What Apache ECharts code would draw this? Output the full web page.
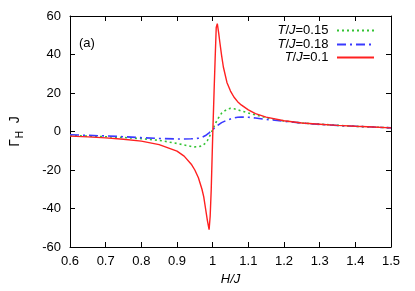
<!DOCTYPE html>
<html>
<head>
<meta charset="utf-8">
<script src="https://cdn.jsdelivr.net/npm/echarts@6/dist/echarts.min.js"></script>
<style>html,body{margin:0;padding:0;background:#fff;}#c{width:415px;height:291px;}</style>
</head>
<body>
<div id="c"></div>
<script>
var hValues = [0.6,0.65,0.7,0.75,0.8,0.85,0.9,0.92,0.94,0.95,0.96,0.97,0.975,0.98,0.985,0.99,0.993,0.996,1.0,1.004,1.007,1.01,1.013,1.017,1.02,1.025,1.03,1.04,1.05,1.06,1.07,1.08,1.1,1.12,1.15,1.2,1.25,1.3,1.35,1.4,1.45,1.5];
var gammaT015 = [-2.1,-2.4,-2.7,-3.1,-3.7,-4.6,-6.2,-7.0,-7.8,-8.0,-7.9,-7.5,-7.0,-6.0,-4.8,-3.0,-1.8,-0.6,1.0,2.6,3.8,5.0,6.0,7.3,8.2,9.5,10.5,11.6,12.0,11.8,11.3,10.7,9.6,8.6,7.2,5.5,4.4,3.8,3.2,2.7,2.3,1.9];
var gammaT018 = [-1.7,-2.0,-2.3,-2.7,-3.2,-3.6,-3.9,-3.9,-3.8,-3.7,-3.5,-3.0,-2.6,-2.1,-1.4,-0.7,-0.2,0.3,1.0,1.6,2.1,2.6,3.0,3.6,4.0,4.6,5.1,5.9,6.5,7.1,7.4,7.5,7.4,7.0,6.3,5.3,4.4,3.7,3.1,2.7,2.3,1.9];
var gammaT010 = [-2.4,-2.8,-3.3,-4.0,-5.0,-6.8,-10.2,-12.8,-17.0,-20.0,-24.0,-30.0,-34.0,-40.0,-46.0,-51.0,-44.0,-30.0,-3.0,21.0,38.0,54.0,56.0,51.0,46.5,39.5,33.5,25.5,21.0,17.8,15.5,13.8,11.2,9.3,7.5,5.6,4.4,3.8,3.2,2.7,2.3,1.9];
var seriesNames = ['T/J=0.15','T/J=0.18','T/J=0.1'];
var xTicks = {min:0.6, max:1.5, interval:0.1};
var yTicks = {min:-60, max:60, interval:20};

function pairs(ys){ return hValues.map(function(h,i){ return [h, ys[i]]; }); }

var FONT = 'Liberation Sans';
var chart = echarts.init(document.getElementById('c'), null, {renderer:'canvas'});
function legendFmt(name){ var p = name.split('='); return '{i|T}/{i|J}=' + p[1] + ' '; }
function mkLegend(name, top){
  return {
    data:[name], right:40, top:top, orient:'vertical', align:'right',
    itemWidth:37, itemHeight:12, padding:0, itemGap:0,
    itemStyle:{opacity:0},
    formatter: legendFmt, selectedMode:false,
    textStyle:{fontFamily:FONT, fontSize:13, color:'#000',
      rich:{i:{fontStyle:'italic', fontFamily:FONT, fontSize:13, color:'#000'}}}
  };
}
var axisCommon = {
  axisLine:{show:true, onZero:false, lineStyle:{color:'#000', width:1}},
  axisTick:{show:true, inside:true, length:5, lineStyle:{color:'#000'}},
  splitLine:{show:false}
};
var option = {
  animation:false,
  backgroundColor:'#fff',
  grid:{left:62, right:24, top:16, bottom:42},
  legend:[mkLegend(seriesNames[0], 24), mkLegend(seriesNames[1], 38), mkLegend(seriesNames[2], 51)],
  xAxis:[
    Object.assign({type:'value', min:xTicks.min, max:xTicks.max, interval:xTicks.interval, position:'bottom',
      name:'H/J', nameLocation:'middle', nameGap:26,
      nameTextStyle:{fontFamily:FONT, fontSize:13, fontStyle:'italic', color:'#000'},
      axisLabel:{fontFamily:FONT, fontSize:13, color:'#000', margin:8}}, axisCommon),
    Object.assign({type:'value', min:xTicks.min, max:xTicks.max, interval:xTicks.interval, position:'top',
      axisLabel:{show:false}}, axisCommon)
  ],
  yAxis:[
    Object.assign({type:'value', min:yTicks.min, max:yTicks.max, interval:yTicks.interval, position:'left',
      name:'{g|Γ}{s|H}{g|  J}', nameLocation:'middle', nameGap:42, nameRotate:90,
      nameTextStyle:{fontFamily:FONT, fontSize:13, color:'#000',
        rich:{g:{fontFamily:FONT, fontSize:14, color:'#000', lineHeight:20, verticalAlign:'top'},
              s:{fontFamily:FONT, fontSize:10, color:'#000', lineHeight:20, verticalAlign:'top', padding:[7,0,0,1]}}},
      axisLabel:{fontFamily:FONT, fontSize:13, color:'#000', margin:9}}, axisCommon),
    Object.assign({type:'value', min:yTicks.min, max:yTicks.max, interval:yTicks.interval, position:'right',
      axisLabel:{show:false}}, axisCommon)
  ],
  graphic:[{type:'text', left:79, top:37, style:{text:'(a)', font:'13px "Liberation Sans"', fill:'#000'}}],
  series:[
    {name:seriesNames[0], type:'line', data:pairs(gammaT015), symbol:'none', smooth:false, z:2,
      lineStyle:{color:'#33c333', width:1.6, type:[2,3]}, itemStyle:{color:'#33c333'}},
    {name:seriesNames[1], type:'line', data:pairs(gammaT018), symbol:'none', smooth:false, z:3,
      lineStyle:{color:'#3a3aff', width:1.6, type:[9,4,2,4]}, itemStyle:{color:'#3a3aff'}},
    {name:seriesNames[2], type:'line', data:pairs(gammaT010), symbol:'none', smooth:false, z:4,
      lineStyle:{color:'#ff2020', width:1.4, type:'solid'}, itemStyle:{color:'#ff2020'}}
  ]
};
chart.setOption(option);
</script>
</body>
</html>
